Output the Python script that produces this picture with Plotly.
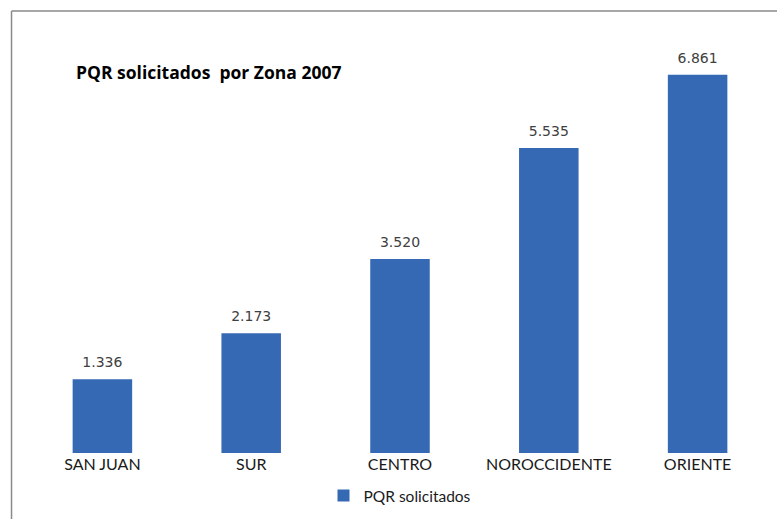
import plotly.graph_objects as go

zonas = ["SAN JUAN", "SUR", "CENTRO", "NOROCCIDENTE", "ORIENTE"]
pqr_solicitados = [1336, 2173, 3520, 5535, 6861]
serie_nombre = "PQR solicitados"
titulo = "PQR solicitados  por Zona 2007"

fig = go.Figure()
fig.add_trace(go.Bar(
    x=zonas,
    y=pqr_solicitados,
    name=serie_nombre,
    marker=dict(color="#3669b4", line=dict(width=0)),
    width=0.4,
    showlegend=True,
    hoverinfo="x+y",
))
# value labels above bars
fig.add_trace(go.Scatter(
    x=zonas,
    y=pqr_solicitados,
    mode="markers+text",
    texttemplate="%{y:,.0f}",
    textposition="top center",
    textfont=dict(family="DejaVu Sans", size=14, color="#404040"),
    marker=dict(size=12, opacity=0),
    showlegend=False,
    hoverinfo="skip",
    cliponaxis=False,
))

x_left = (11 - 27.5) / 745
y_top = (453 - 11) / 441
x_right = (777 + 10 - 27.5) / 745
fig.update_layout(
    width=777, height=519,
    separators=",.",
    paper_bgcolor="white",
    plot_bgcolor="white",
    margin=dict(l=27.5, r=4.5, t=12, b=66, pad=0),
    xaxis=dict(showgrid=False, showline=False, zeroline=False,
               ticks="", ticklen=0,
               tickfont=dict(family="Lato", size=16, color="#1a1a1a")),
    yaxis=dict(range=[0, 8000], visible=False, showgrid=False),
    legend=dict(orientation="h", x=0.5, xanchor="center", y=-0.0975, yanchor="middle",
                font=dict(family="Lato", size=15.5, color="#1a1a1a"),
                itemwidth=30, bgcolor="rgba(0,0,0,0)"),
    bargap=0.6,
    font=dict(family="Lato"),
    annotations=[dict(
        text="<b>" + titulo + "</b>", xref="paper", yref="paper",
        x=(74 - 27.5) / 745, y=(453 - 72) / 441, xanchor="left", yanchor="middle",
        showarrow=False, font=dict(family="Open Sans", size=17.5, color="#000000"),
    )],
    shapes=[
        dict(type="line", xref="paper", yref="paper",
             x0=x_left, x1=x_right, y0=y_top, y1=y_top,
             line=dict(color="#8a8a8a", width=1.5), layer="below"),
        dict(type="line", xref="paper", yref="paper",
             x0=x_left, x1=x_left, y0=y_top, y1=-0.2,
             line=dict(color="#8a8a8a", width=1.5), layer="below"),
    ],
)

fig.write_html("out.html", config={"displayModeBar": False},
               post_script="document.body.style.margin='0';document.body.style.overflow='hidden';"
                           "document.documentElement.style.overflow='hidden';")
